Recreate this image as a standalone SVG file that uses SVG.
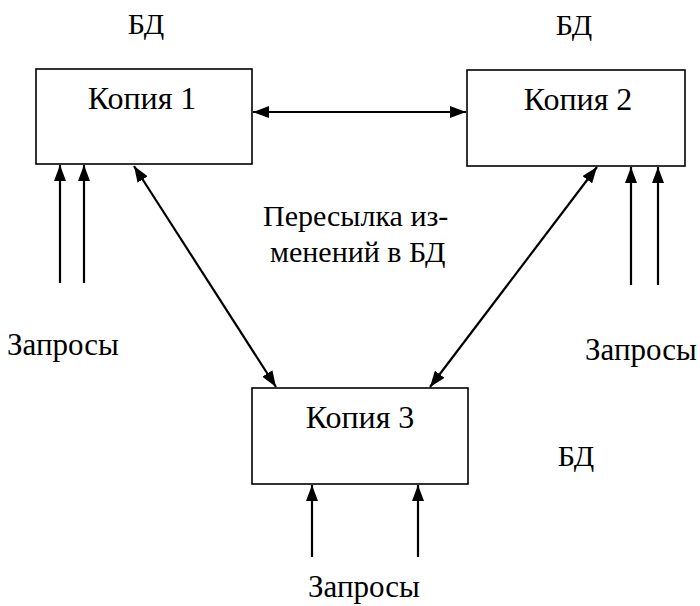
<svg xmlns="http://www.w3.org/2000/svg" width="700" height="606" viewBox="0 0 700 606">
<style>
.t{font-family:'Liberation Serif','Times New Roman',serif;fill:#000;font-size:31px}
.k{font-size:32px}
.p{font-size:30px}
.bd{font-size:30px}
.box{fill:#fff;stroke:#000;stroke-width:1.6}
.c{stroke:#000;stroke-width:2.2;fill:none}
</style>
<defs>
<marker id="ah" viewBox="0 0 16 12" refX="16" refY="6" markerWidth="16" markerHeight="12" markerUnits="userSpaceOnUse" orient="auto-start-reverse">
<path d="M0,0 L16,6 L0,12 Z" fill="#000"/>
</marker>
</defs>
<rect width="700" height="606" fill="#fff"/>
<g id="connectors">
<line class="c" x1="253" y1="112" x2="466" y2="112" marker-start="url(#ah)" marker-end="url(#ah)"/>
<line class="c" x1="134" y1="166" x2="276" y2="387" marker-start="url(#ah)" marker-end="url(#ah)"/>
<line class="c" x1="597" y1="167" x2="430" y2="387" marker-start="url(#ah)" marker-end="url(#ah)"/>
<line class="c" x1="60" y1="283" x2="60" y2="165" marker-end="url(#ah)"/>
<line class="c" x1="84" y1="283" x2="84" y2="165" marker-end="url(#ah)"/>
<line class="c" x1="631" y1="285" x2="631" y2="167" marker-end="url(#ah)"/>
<line class="c" x1="658" y1="285" x2="658" y2="167" marker-end="url(#ah)"/>
<line class="c" x1="312" y1="557" x2="312" y2="485" marker-end="url(#ah)"/>
<line class="c" x1="418" y1="557" x2="418" y2="485" marker-end="url(#ah)"/>
</g>
<g id="copy1">
<rect class="box" x="36" y="69" width="216" height="95"/>
<text class="t k" x="142" y="109" text-anchor="middle">Копия 1</text>
<text class="t bd" x="146" y="34" text-anchor="middle">БД</text>
</g>
<g id="copy2">
<rect class="box" x="467" y="70" width="218" height="96"/>
<text class="t k" x="578" y="110" text-anchor="middle">Копия 2</text>
<text class="t bd" x="574" y="35" text-anchor="middle">БД</text>
</g>
<g id="copy3">
<rect class="box" x="252" y="388" width="216" height="96"/>
<text class="t k" x="360" y="428" text-anchor="middle">Копия 3</text>
<text class="t bd" x="576" y="466" text-anchor="middle">БД</text>
</g>
<g id="labels">
<text class="t p" x="263" y="226">Пересылка из-</text>
<text class="t p" x="270" y="262">менений в БД</text>
<text class="t" x="7" y="355">Запросы</text>
<text class="t" x="585" y="360">Запросы</text>
<text class="t" x="308" y="597">Запросы</text>
</g>
</svg>
